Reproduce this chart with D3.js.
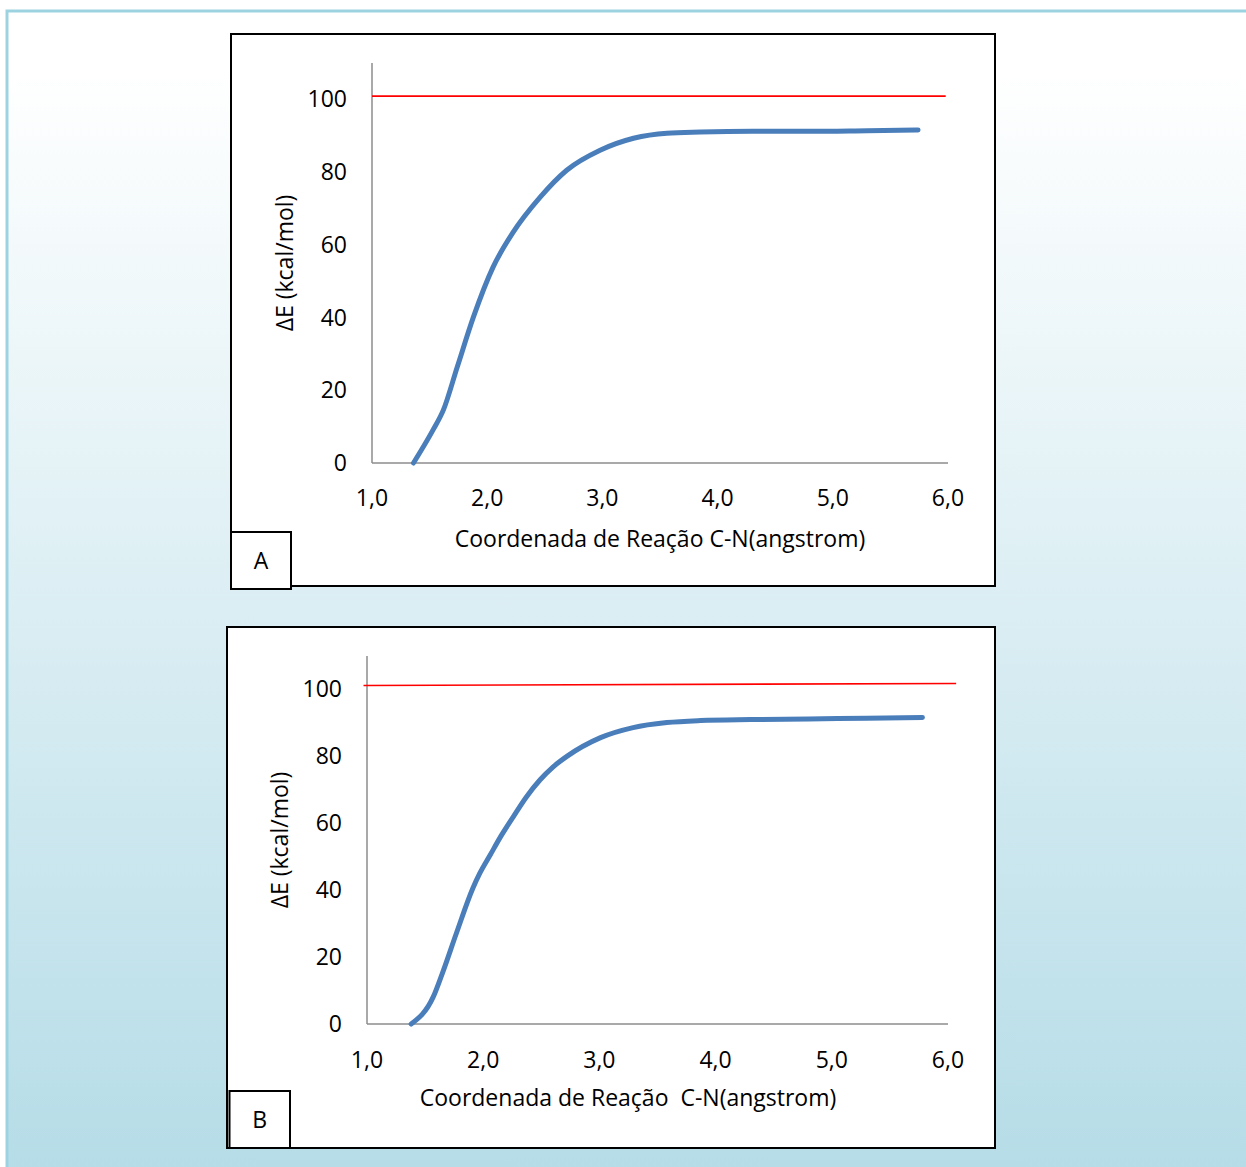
<!DOCTYPE html>
<html>
<head>
<meta charset="utf-8">
<script src="https://cdn.jsdelivr.net/npm/d3@7"></script>
<style>
	html, body { margin: 0; padding: 0; }
	svg { display: block; }
	text { font-family: "Open Sans", Lato, sans-serif; fill: #000; white-space: pre; }
</style>
</head>
<body>
<svg width="1246" height="1167"></svg>
<script>
// data.........................................................................

var xTicks = [1, 2, 3, 4, 5, 6],
	yTicks = [0, 20, 40, 60, 80, 100];

// panel A
var distA = [1.36, 1.53, 1.62, 1.74, 1.88, 2.05, 2.22, 2.46, 2.69, 2.98, 3.27, 3.56, 3.85, 4.3, 4.8, 5.3, 5.74],
	energyA = [0, 9.1, 14.6, 26.4, 40.1, 53.8, 63.2, 73.1, 80.5, 86, 89.3, 90.7, 91, 91.2, 91.2, 91.4, 91.6],
	limitXA = [1.0, 5.98],
	limitYA = [100.9, 100.9];

// panel B
var distB = [1.38, 1.57, 1.65, 1.77, 1.91, 1.97, 2.06, 2.15, 2.26, 2.37, 2.49, 2.6, 2.72, 3.01, 3.29, 3.58, 3.87, 4.3, 4.8, 5.3, 5.78],
	energyB = [0, 8.1, 15.3, 27.2, 40.5, 45, 50.5, 56, 62, 67.8, 73, 76.8, 80, 85.6, 88.6, 90.1, 90.7, 91, 91.2, 91.4, 91.6],
	limitXB = [0.97, 6.07],
	limitYB = [101.2, 101.8];

// page..........................................................................

var svg = d3.select("svg");

var defs = svg.append("defs");
var grad = defs.append("linearGradient")
	.attr("id", "bg").attr("x1", 0).attr("y1", 0).attr("x2", 0).attr("y2", 1);
grad.append("stop").attr("offset", "0.05").attr("stop-color", "#ffffff");
grad.append("stop").attr("offset", "1").attr("stop-color", "#b5dce7");

svg.append("rect")
	.attr("width", 1246).attr("height", 1167)
	.attr("fill", "#ffffff");
svg.append("rect")
	.attr("x", 7).attr("y", 11).attr("width", 1250).attr("height", 1170)
	.attr("fill", "url(#bg)")
	.attr("stroke", "#9dd3e1").attr("stroke-width", 3);

drawPanel({
	box: [231, 34, 995, 586], tag: "A", tagBox: [231, 532, 291, 589],
	x0: 372, x1: 948, y0: 463, y1: 63,
	dist: distA, energy: energyA, limX: limitXA, limY: limitYA,
	xTitle: "Coordenada de Reação C-N(angstrom)", xTitleX: 660, xTitleY: 547,
	yTitleX: 293, xLabY: 506, yLabX: 347
});

drawPanel({
	box: [227, 627, 995, 1148], tag: "B", tagBox: [229.5, 1091, 290, 1148],
	x0: 367, x1: 948, y0: 1024, y1: 656,
	dist: distB, energy: energyB, limX: limitXB, limY: limitYB,
	xTitle: "Coordenada de Reação  C-N(angstrom)", xTitleX: 628, xTitleY: 1106,
	yTitleX: 288, xLabY: 1068, yLabX: 342
});

// draw functions................................................................

function drawPanel(p) {
	var g = svg.append("g");

	g.append("rect")
		.attr("x", p.box[0]).attr("y", p.box[1])
		.attr("width", p.box[2] - p.box[0]).attr("height", p.box[3] - p.box[1])
		.attr("fill", "#fff").attr("stroke", "#000").attr("stroke-width", 2);

	var x = d3.scaleLinear().domain([1, 6]).range([p.x0, p.x1]),
		y = d3.scaleLinear().domain([0, 110]).range([p.y0, p.y1]);

	// axes
	g.append("line")
		.attr("x1", p.x0).attr("x2", p.x0).attr("y1", p.y1).attr("y2", p.y0)
		.attr("stroke", "#8c8c8c").attr("stroke-width", 1.5);
	g.append("line")
		.attr("x1", p.x0).attr("x2", p.x1).attr("y1", p.y0).attr("y2", p.y0)
		.attr("stroke", "#8c8c8c").attr("stroke-width", 1.5);

	g.selectAll(".xl").data(xTicks).enter().append("text")
		.attr("x", function(d) { return x(d); })
		.attr("y", p.xLabY)
		.attr("text-anchor", "middle")
		.style("font-size", "23px")
		.text(function(d) { return d3.format(".1f")(d).replace(".", ","); });

	g.selectAll(".yl").data(yTicks).enter().append("text")
		.attr("x", p.yLabX)
		.attr("y", function(d) { return y(d) + 8; })
		.attr("text-anchor", "end")
		.style("font-size", "23px")
		.text(function(d) { return d; });

	// titles
	g.append("text")
		.attr("x", p.xTitleX).attr("y", p.xTitleY)
		.attr("text-anchor", "middle")
		.style("font-size", "23px")
		.text(p.xTitle);
	g.append("text")
		.attr("transform", "translate(" + p.yTitleX + "," + y(55) + ") rotate(-90)")
		.attr("text-anchor", "middle")
		.style("font-size", "23px")
		.text("ΔE (kcal/mol)");

	// red reference line
	var red = d3.zip(p.limX, p.limY);
	g.append("path")
		.attr("d", d3.line()
			.x(function(d) { return x(d[0]); })
			.y(function(d) { return y(d[1]); })(red))
		.attr("fill", "none").attr("stroke", "#ff0000").attr("stroke-width", 1.6);

	// energy curve
	var pts = d3.zip(p.dist, p.energy);
	g.append("path")
		.attr("d", d3.line()
			.curve(d3.curveMonotoneX)
			.x(function(d) { return x(d[0]); })
			.y(function(d) { return y(d[1]); })(pts))
		.attr("fill", "none").attr("stroke", "#4a7ebb")
		.attr("stroke-width", 5).attr("stroke-linecap", "round");

	// panel tag
	g.append("rect")
		.attr("x", p.tagBox[0]).attr("y", p.tagBox[1])
		.attr("width", p.tagBox[2] - p.tagBox[0]).attr("height", p.tagBox[3] - p.tagBox[1])
		.attr("fill", "#fff").attr("stroke", "#000").attr("stroke-width", 2);
	g.append("text")
		.attr("x", (p.tagBox[0] + p.tagBox[2]) / 2)
		.attr("y", (p.tagBox[1] + p.tagBox[3]) / 2 + 8)
		.attr("text-anchor", "middle")
		.style("font-size", "23px")
		.text(p.tag);
}
</script>
</body>
</html>
